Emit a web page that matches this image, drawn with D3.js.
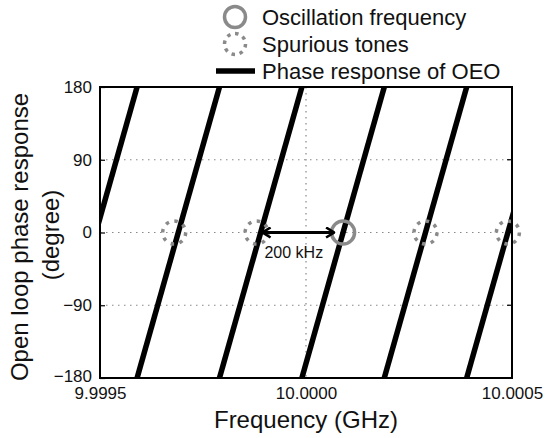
<!DOCTYPE html>
<html>
<head>
<meta charset="utf-8">
<style>
body{margin:0;background:#fff;font-family:"Liberation Sans",Arial,sans-serif;}
text{font-family:"Liberation Sans",Arial,sans-serif;}
.tick text{font-size:17px;fill:#111;}
.grid line{stroke:#888;stroke-width:1.2;stroke-dasharray:1.5,4.5;}
</style>
</head>
<body>
<svg id="chart"></svg>
<script src="https://cdn.jsdelivr.net/npm/d3@7"></script>
<script>
// frequencies in GHz, phase in degrees
var modeFreqs = [9.99949, 9.99969, 9.99989, 10.00009, 10.00029, 10.00049];
var fsr = 0.0002;                   // 200 kHz mode spacing
var oscFreq = 10.00009;
var spurFreqs = [9.99968, 9.99988, 10.00029, 10.00049];
var xTicks = [9.9995, 10.0000, 10.0005];
var yTicks = [-180, -90, 0, 90, 180];
var legendItems = ["Oscillation frequency", "Spurious tones", "Phase response of OEO"];

function buildChart(){
  var W = 548, H = 438;
  var margin = {top: 87, right: 36, bottom: 60, left: 100};
  var width = W - margin.left - margin.right;
  var height = H - margin.top - margin.bottom;

  var svg = d3.select("#chart").attr("width", W).attr("height", H);
  var g = svg.append("g").attr("transform", "translate(" + margin.left + "," + margin.top + ")");

  var x = d3.scaleLinear().domain([9.9995, 10.0005]).range([0, width]);
  var y = d3.scaleLinear().domain([-180, 180]).range([height, 0]);

  var defs = svg.append("defs");
  defs.append("clipPath").attr("id", "clip")
    .append("rect").attr("width", width).attr("height", height);

  // dotted grid
  g.append("g").attr("class", "grid")
    .selectAll("line").data([-90, 0, 90]).enter().append("line")
    .attr("x1", 0).attr("x2", width)
    .attr("y1", d => y(d)).attr("y2", d => y(d));
  g.append("g").attr("class", "grid")
    .selectAll("line").data([10.0000]).enter().append("line")
    .attr("y1", 0).attr("y2", height)
    .attr("x1", d => x(d)).attr("x2", d => x(d));

  // phase response: one ramp per mode, -180..180 over one FSR
  var line = d3.line().x(d => x(d.f)).y(d => y(d.p));
  g.append("g").attr("clip-path", "url(#clip)")
    .selectAll("path").data(modeFreqs).enter().append("path")
    .attr("d", f => line([{f: f - fsr / 2, p: -180}, {f: f + fsr / 2, p: 180}]))
    .attr("fill", "none").attr("stroke", "#000").attr("stroke-width", 5.5);

  // spurious tones
  g.selectAll(".spur").data(spurFreqs).enter().append("circle")
    .attr("class", "spur")
    .attr("cx", d => x(d)).attr("cy", y(0)).attr("r", 11.5)
    .attr("fill", "none").attr("stroke", "#8a8a8a").attr("stroke-width", 3.5)
    .attr("stroke-dasharray", "3.5,5.5");

  // oscillation frequency
  g.append("circle")
    .attr("cx", x(oscFreq)).attr("cy", y(0)).attr("r", 11.5)
    .attr("fill", "none").attr("stroke", "#8a8a8a").attr("stroke-width", 3.5);

  // 200 kHz arrow
  defs.append("marker").attr("id", "ah").attr("viewBox", "0 0 10 12")
    .attr("refX", 9).attr("refY", 6).attr("markerWidth", 10).attr("markerHeight", 12)
    .attr("orient", "auto-start-reverse").attr("markerUnits", "userSpaceOnUse")
    .append("path").attr("d", "M1,1 L9,6 L1,11").attr("fill", "none")
    .attr("stroke", "#000").attr("stroke-width", 2.6);
  g.append("line")
    .attr("x1", x(spurFreqs[1]) + 6).attr("x2", x(oscFreq) - 9)
    .attr("y1", y(0)).attr("y2", y(0))
    .attr("stroke", "#000").attr("stroke-width", 2.8)
    .attr("marker-start", "url(#ah)").attr("marker-end", "url(#ah)");
  g.append("text")
    .attr("x", (x(spurFreqs[1]) + x(oscFreq)) / 2 - 6).attr("y", y(0) + 25)
    .attr("text-anchor", "middle").style("font-size", "16px").attr("fill", "#111")
    .text("200 kHz");

  // axes
  var xAxis = d3.axisBottom(x).tickValues(xTicks).tickFormat(d3.format(".4f")).tickSize(0).tickPadding(9);
  var yAxis = d3.axisLeft(y).tickValues(yTicks).tickSizeInner(-5).tickSizeOuter(0).tickPadding(8);
  g.append("g").attr("transform", "translate(0," + height + ")").call(xAxis)
    .call(s => s.select(".domain").remove());
  var ya = g.append("g").call(yAxis);
  ya.select(".domain").remove();
  ya.selectAll(".tick line").attr("stroke", "#000").attr("stroke-width", 1.2);
  // nudge the -180 label up a touch so it clears 9.9995
  ya.selectAll(".tick text").filter(d => d === -180).attr("dy", "0.2em");
  g.append("g").selectAll("line").data([-90, 0, 90]).enter().append("line")
    .attr("x1", width).attr("x2", width - 5).attr("y1", d => y(d)).attr("y2", d => y(d))
    .attr("stroke", "#000").attr("stroke-width", 1.2);

  g.append("rect").attr("width", width).attr("height", height)
    .attr("fill", "none").attr("stroke", "#000").attr("stroke-width", 2);

  // axis titles
  svg.append("text").attr("x", margin.left + width / 2).attr("y", 428)
    .attr("text-anchor", "middle").style("font-size", "24px").attr("fill", "#111")
    .text("Frequency (GHz)");
  svg.append("text").attr("transform", "translate(28,237) rotate(-90)")
    .attr("text-anchor", "middle").style("font-size", "24px").attr("fill", "#111")
    .text("Open loop phase response");
  svg.append("text").attr("transform", "translate(59,235) rotate(-90)")
    .attr("text-anchor", "middle").style("font-size", "24px").attr("fill", "#111")
    .text("(degree)");

  // legend
  var lg = svg.append("g");
  legendItems.forEach(function(t, i){
    var cy = 17 + i * 27;
    if (i === 0) {
      lg.append("circle").attr("cx", 235).attr("cy", cy).attr("r", 10.5)
        .attr("fill", "none").attr("stroke", "#8a8a8a").attr("stroke-width", 3.5);
    } else if (i === 1) {
      lg.append("circle").attr("cx", 235).attr("cy", cy).attr("r", 10.5)
        .attr("fill", "none").attr("stroke", "#8a8a8a").attr("stroke-width", 3.5)
        .attr("stroke-dasharray", "3.5,4.7");
    } else {
      lg.append("line").attr("x1", 216).attr("x2", 255).attr("y1", cy).attr("y2", cy)
        .attr("stroke", "#000").attr("stroke-width", 5.5);
    }
    lg.append("text").attr("x", 262).attr("y", cy + 8)
      .style("font-size", "22px").attr("fill", "#111").text(t);
  });
}

buildChart();
</script>
</body>
</html>
